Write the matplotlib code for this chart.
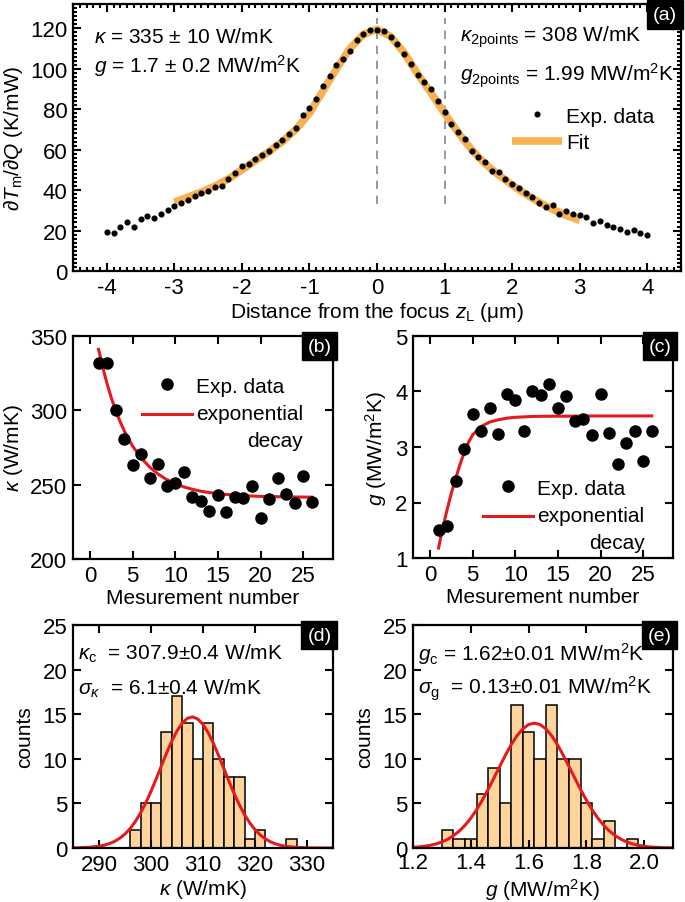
import numpy as np
import matplotlib
matplotlib.use('agg')
import matplotlib.pyplot as plt

plt.rcParams['font.family'] = ['Liberation Sans', 'DejaVu Sans']
plt.rcParams['mathtext.fontset'] = 'custom'
plt.rcParams['mathtext.rm'] = 'Liberation Sans'
plt.rcParams['mathtext.it'] = 'Liberation Sans:italic'
plt.rcParams['mathtext.bf'] = 'Liberation Sans:bold'
plt.rcParams['axes.unicode_minus'] = False

#---------------- data --------------------

# (a) thermal response vs focus distance
z_pos = np.linspace(-4, 4, 81)
dTdQ = [19.5, 18.7, 22.0, 24.0, 21.8, 25.6, 27.3, 26.4, 28.0, 30.0,
        32.0, 33.4, 35.0, 36.9, 38.8, 39.7, 41.6, 42.0, 45.5, 48.3,
        52.0, 53.0, 55.4, 57.5, 59.5, 62.5, 64.8, 67.8, 70.6, 76.9,
        80.5, 85.0, 91.4, 96.2, 101.7, 105.0, 109.0, 114.0, 117.0, 119.0,
        119.0, 118.7, 115.7, 112.4, 107.4, 102.5, 97.0, 93.4, 90.0, 83.8,
        78.5, 72.7, 68.6, 65.3, 59.5, 56.2, 54.0, 49.6, 48.8, 45.5,
        43.0, 40.8, 38.8, 36.7, 33.6, 31.4, 32.6, 28.0, 29.8, 28.4,
        27.6, 26.8, 23.6, 24.8, 22.6, 22.0, 20.7, 19.3, 20.3, 19.0, 17.7]
fit_z = [-3.0, -2.8, -2.6, -2.4, -2.2, -2.0, -1.8, -1.6, -1.4, -1.2, -1.0,
         -0.8, -0.6, -0.4, -0.2, 0.0, 0.2, 0.4, 0.6, 0.8, 1.0,
         1.2, 1.4, 1.6, 1.8, 2.0, 2.2, 2.4, 2.6, 2.8, 3.0]
fit_T = [34.0, 36.5, 39.0, 42.0, 45.5, 50.0, 54.5, 59.0, 64.0, 70.0, 78.0,
         89.0, 100.0, 110.0, 117.0, 119.5, 116.0, 108.0, 97.5, 88.0, 78.0,
         68.5, 60.0, 53.0, 47.5, 42.5, 38.0, 34.0, 30.5, 27.5, 25.0]

# (b), (c) repeated measurements
meas_n = list(range(1, 27))
kappa_meas = [332, 332, 300, 281, 263.4, 270.5, 254.2, 263.8, 249.3, 251,
              258.7, 241.4, 239.2, 232.5, 243.2, 231.4, 241.4, 241, 249.3, 227.6,
              240.3, 254.8, 243.6, 238, 256, 238.5]
kfit_n = [1, 1.5, 2, 2.5, 3, 3.5, 4, 4.5, 5, 6, 7, 8, 9, 10, 11, 12, 13,
          14, 15, 16, 18, 20, 22, 24, 26]
kfit_v = [341.0, 328.6, 317.8, 308.3, 300.0, 292.8, 286.4, 280.8, 275.9, 267.9,
          261.8, 257.0, 253.4, 250.6, 248.5, 246.9, 245.6, 244.7, 243.9, 243.4,
          242.6, 242.1, 241.9, 241.7, 241.6]

g_meas = [1.51, 1.57, 2.38, 2.96, 3.60, 3.29, 3.71, 3.23, 3.95, 3.84,
          3.29, 4.00, 3.94, 4.14, 3.70, 3.92, 3.47, 3.51, 3.22, 3.96,
          3.26, 2.69, 3.07, 3.29, 2.75, 3.28]
gfit_n = [1, 1.5, 2, 2.5, 3, 3.5, 4, 4.5, 5, 6, 7, 8, 9, 10, 12, 14, 16, 20, 26]
gfit_v = [1.18, 1.55, 1.87, 2.17, 2.43, 2.68, 2.90, 3.08, 3.22, 3.37,
          3.45, 3.49, 3.52, 3.535, 3.55, 3.555, 3.555, 3.56, 3.56]

# (d) histogram of kappa
k_edges = [290, 292, 294, 296, 298, 300, 302, 304, 306, 308, 310, 312, 314,
           316, 318, 320, 322, 324, 326, 328, 330]
k_counts = [0, 0, 0, 2, 5, 5, 13, 17, 14, 10, 14, 10, 8, 8, 1, 2, 0, 0, 1, 0]
kg_x = [284, 286, 288, 290, 291, 292, 293, 294, 295, 296, 297, 298, 299, 300,
        301, 302, 303, 304, 305, 306, 307, 308, 309, 310, 311, 312, 313, 314,
        315, 316, 317, 318, 319, 320, 321, 322, 323, 324, 325, 326, 328, 330,
        332, 334, 336]
kg_y = [0.007, 0.023, 0.072, 0.198, 0.316, 0.492, 0.744, 1.096, 1.571, 2.19,
        2.98, 3.94, 5.07, 6.35, 7.75, 9.21, 10.65, 11.98, 13.13, 14.0,
        14.54, 14.7, 14.46, 13.86, 12.92, 11.73, 10.36, 8.92, 7.47, 6.09,
        4.83, 3.73, 2.81, 2.06, 1.47, 1.02, 0.687, 0.452, 0.289, 0.180,
        0.065, 0.021, 0.006, 0.002, 0.0]

# (e) histogram of g
g_edges = [1.26, 1.30, 1.34, 1.38, 1.42, 1.46, 1.50, 1.54, 1.58, 1.62, 1.66,
           1.70, 1.74, 1.78, 1.82, 1.86, 1.90, 1.94, 1.98]
g_counts = [0, 2, 1, 1, 6, 9, 5, 16, 13, 10, 16, 10, 10, 5, 1, 3, 0, 1]
gg_x = [1.20, 1.22, 1.24, 1.26, 1.28, 1.30, 1.32, 1.34, 1.36, 1.38, 1.40,
        1.42, 1.44, 1.46, 1.48, 1.50, 1.52, 1.54, 1.56, 1.58, 1.60, 1.62,
        1.64, 1.66, 1.68, 1.70, 1.72, 1.74, 1.76, 1.78, 1.80, 1.82, 1.84,
        1.86, 1.88, 1.90, 1.92, 1.94, 1.96, 1.98, 2.00, 2.02, 2.04, 2.06,
        2.08, 2.10]
gg_y = [0.076, 0.123, 0.195, 0.303, 0.458, 0.676, 0.977, 1.376, 1.895, 2.547,
        3.344, 4.288, 5.368, 6.564, 7.84, 9.14, 10.41, 11.59, 12.59, 13.35,
        13.84, 14.0, 13.84, 13.35, 12.59, 11.59, 10.41, 9.14, 7.84, 6.56,
        5.37, 4.29, 3.34, 2.55, 1.90, 1.38, 0.98, 0.68, 0.46, 0.30,
        0.20, 0.12, 0.08, 0.046, 0.027, 0.015]

orange = '#F8B150'
peach = '#FDD49C'
red = '#E51A1D'
FS = 15
TS = 16

#---------------- helpers --------------------

W, H = 685., 903.
fig = plt.figure(figsize=(W / 100, H / 100), dpi=100)


def place(l, r, t, b):
  return fig.add_axes([l / W, 1 - b / H, (r - l) / W, (b - t) / H])


def style(ax):
  for s in ax.spines.values():
    s.set_linewidth(1.6)
  ax.tick_params(which='both', direction='in', top=True, right=True,
                 labelsize=TS, width=1.5)
  ax.tick_params(which='major', length=5.5, pad=4)
  ax.tick_params(which='minor', length=3)


def tag(ax, s):
  ax.text(0.994, 0.993, s, transform=ax.transAxes, ha='right', va='top',
          color='white', fontsize=14,
          bbox=dict(boxstyle='square,pad=0.3', fc='black', ec='black'))


def legend_fit(ax, anchor):
  h, l = ax.get_legend_handles_labels()
  leg = ax.legend(h[::-1], l[::-1], loc='upper left', bbox_to_anchor=anchor, frameon=False,
                  fontsize=FS, borderpad=0, handlelength=2.4, handletextpad=0.2,
                  labelspacing=0.4)
  for t in leg.get_texts():
    t.set_multialignment('right')
    t.set_linespacing(1.55)
  # put the fit line next to the first text row
  fit_line = leg.legend_handles[1]
  fit_line.set_ydata([y + 9.7 for y in fit_line.get_ydata()])
  return leg

#---------------- (a) --------------------

ax_a = place(73, 681, 5, 272)
ax_a.plot([0, 0], [33, 125], ls='--', color='#888888', lw=1.2, dashes=(5, 4))
ax_a.plot([1, 1], [33, 125], ls='--', color='#888888', lw=1.2, dashes=(5, 4))
ax_a.plot(fit_z, fit_T, color=orange, lw=5.5, solid_capstyle='butt', label='Fit', zorder=2)
ax_a.plot(z_pos, dTdQ, 'o', color='black', ms=3.4, label='Exp. data', zorder=3)
ax_a.set_xlim(-4.5, 4.5)
ax_a.set_ylim(0, 132)
ax_a.set_xticks([-4, -3, -2, -1, 0, 1, 2, 3, 4])
ax_a.set_yticks([0, 20, 40, 60, 80, 100, 120])
ax_a.set_xticks(np.arange(-4.5, 4.51, 0.1), minor=True)
ax_a.set_yticks(np.arange(0, 132, 2), minor=True)
style(ax_a)
ax_a.set_xlabel('Distance from the focus $z_{\\rm L}$ (μm)', fontsize=FS, labelpad=2)
ax_a.set_ylabel('$\\partial T_{\\rm m}/\\partial Q$ (K/mW)', fontsize=FS, labelpad=4)
ax_a.text(0.035, 0.88, '$\\kappa$ = 335 ± 10 W/mK', transform=ax_a.transAxes, fontsize=FS, va='center')
ax_a.text(0.035, 0.77, '$g$ = 1.7 ± 0.2 MW/m$^2$K', transform=ax_a.transAxes, fontsize=FS, va='center')
ax_a.text(0.637, 0.88, '$\\kappa_{\\rm 2points}$ = 308 W/mK', transform=ax_a.transAxes, fontsize=FS, va='center')
ax_a.text(0.637, 0.735, '$g_{\\rm 2points}$ = 1.99 MW/m$^2$K', transform=ax_a.transAxes, fontsize=FS, va='center')
h, l = ax_a.get_legend_handles_labels()
ax_a.legend(h[::-1], l[::-1], loc='upper left', bbox_to_anchor=(0.705, 0.655), frameon=False,
            fontsize=FS, borderpad=0, handlelength=2.4, handletextpad=0.2, labelspacing=0.35)
tag(ax_a, '(a)')

#---------------- (b) --------------------

ax_b = place(73, 333, 337, 560)
ax_b.plot(kfit_n, kfit_v, color=red, lw=2.2, label='exponential\ndecay')
ax_b.plot(meas_n, kappa_meas, 'o', color='black', ms=8, label='Exp. data')
ax_b.set_xlim(-2, 28.5)
ax_b.set_ylim(200, 350)
ax_b.set_xticks([0, 5, 10, 15, 20, 25])
ax_b.set_yticks([200, 250, 300, 350])
style(ax_b)
ax_b.set_xlabel('Mesurement number', fontsize=FS, labelpad=2)
ax_b.set_ylabel('$\\kappa$ (W/mK)', fontsize=FS, labelpad=4)
legend_fit(ax_b, (0.225, 0.865))
tag(ax_b, '(b)')

#---------------- (c) --------------------

ax_c = place(413, 673, 337, 559)
ax_c.plot(gfit_n, gfit_v, color=red, lw=2.2, label='exponential\ndecay')
ax_c.plot(meas_n, g_meas, 'o', color='black', ms=8, label='Exp. data')
ax_c.set_xlim(-2, 28.5)
ax_c.set_ylim(1, 5)
ax_c.set_xticks([0, 5, 10, 15, 20, 25])
ax_c.set_yticks([1, 2, 3, 4, 5])
style(ax_c)
ax_c.set_xlabel('Mesurement number', fontsize=FS, labelpad=2)
ax_c.set_ylabel('$g$ (MW/m$^2$K)', fontsize=FS, labelpad=4)
legend_fit(ax_c, (0.23, 0.405))
tag(ax_c, '(c)')

#---------------- (d) --------------------

ax_d = place(73, 333, 626, 849)
ax_d.bar(k_edges[:-1], k_counts, width=np.diff(k_edges), align='edge',
         color=peach, edgecolor='black', lw=1.1)
ax_d.plot(kg_x, kg_y, color=red, lw=2.2)
ax_d.set_xlim(285, 335)
ax_d.set_ylim(0, 25)
ax_d.set_xticks([290, 300, 310, 320, 330])
ax_d.set_yticks([0, 5, 10, 15, 20, 25])
style(ax_d)
ax_d.set_xlabel('$\\kappa$ (W/mK)', fontsize=FS, labelpad=2)
ax_d.set_ylabel('counts', fontsize=FS, labelpad=6)
ax_d.text(0.02, 0.875, '$\\kappa_{\\rm c}$  = 307.9±0.4 W/mK', transform=ax_d.transAxes, fontsize=FS, va='center')
ax_d.text(0.02, 0.72, '$\\sigma_{\\kappa}$  = 6.1±0.4 W/mK', transform=ax_d.transAxes, fontsize=FS, va='center')
tag(ax_d, '(d)')

#---------------- (e) --------------------

ax_e = place(413, 673, 626, 849)
ax_e.bar(g_edges[:-1], g_counts, width=np.diff(g_edges), align='edge',
         color=peach, edgecolor='black', lw=1.1)
ax_e.plot(gg_x, gg_y, color=red, lw=2.2)
ax_e.set_xlim(1.2, 2.1)
ax_e.set_ylim(0, 25)
ax_e.set_xticks([1.2, 1.4, 1.6, 1.8, 2.0])
ax_e.set_yticks([0, 5, 10, 15, 20, 25])
style(ax_e)
ax_e.tick_params(axis='x', pad=3)
ax_e.set_xlabel('$g$ (MW/m$^2$K)', fontsize=FS, labelpad=2)
ax_e.set_ylabel('counts', fontsize=FS, labelpad=6)
ax_e.text(0.02, 0.875, '$g_{\\rm c}$ = 1.62±0.01 MW/m$^2$K', transform=ax_e.transAxes, fontsize=FS, va='center')
ax_e.text(0.02, 0.72, '$\\sigma_{\\rm g}$  = 0.13±0.01 MW/m$^2$K', transform=ax_e.transAxes, fontsize=FS, va='center')
tag(ax_e, '(e)')

plt.savefig('out.png', dpi=100)
plt.close('all')
